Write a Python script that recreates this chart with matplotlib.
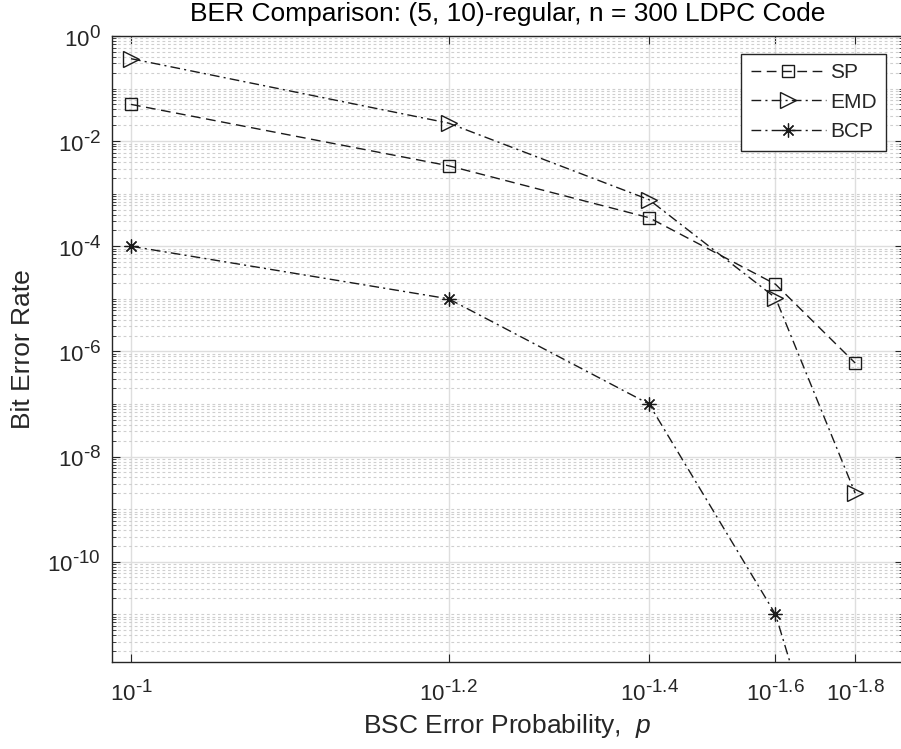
import numpy as np
import matplotlib
matplotlib.use("Agg")
import matplotlib.pyplot as plt
import matplotlib._mathtext as _mt
from matplotlib.ticker import FixedLocator, FixedFormatter, NullFormatter

# MATLAB-style superscripts are slightly larger than mathtext's default
_mt.SHRINK_FACTOR = 0.85

plt.rcParams['font.family'] = ['Liberation Sans', 'DejaVu Sans']
plt.rcParams['mathtext.fontset'] = 'custom'
plt.rcParams['mathtext.rm'] = 'Liberation Sans'
plt.rcParams['mathtext.it'] = 'Liberation Sans:italic'
plt.rcParams['mathtext.default'] = 'regular'

# ---- data ----
p_exponents = [-1.0, -1.2, -1.4, -1.6, -1.8]
x_tick_labels = [r'$10^{\text{-1}}$', r'$10^{\text{-1.2}}$', r'$10^{\text{-1.4}}$',
                 r'$10^{\text{-1.6}}$', r'$10^{\text{-1.8}}$']
ber_sp = [5e-2, 3.4e-3, 3.5e-4, 1.9e-5, 6e-7]
ber_emd = [3.7e-1, 2.2e-2, 7.7e-4, 1.05e-5, 2e-9]
ber_bcp = [1e-4, 1e-5, 1e-7, 1e-11, 1e-16]
y_major_exp = [0, -2, -4, -6, -8, -10]
y_tick_labels = [r'$10^{\text{0}}$', r'$10^{\text{-2}}$', r'$10^{\text{-4}}$',
                 r'$10^{\text{-6}}$', r'$10^{\text{-8}}$', r'$10^{\text{-10}}$']
series_names = ['SP', 'EMD', 'BCP']

p = np.power(10.0, p_exponents)

W, H = 901, 749
fig = plt.figure(figsize=(W / 100, H / 100), dpi=100)
ax_l, ax_r, ax_t, ax_b = 112, 903, 36, 661.7
ax = fig.add_axes([ax_l / W, 1 - ax_b / H, (ax_r - ax_l) / W, (ax_b - ax_t) / H])

txt = '#262626'
lc = '#1a1a1a'

ax.plot(p, ber_sp, color=lc, lw=1.0, dashes=(7, 4), marker='s', ms=8.5,
        mfc='none', mec=lc, mew=1.0, label=series_names[0])
ax.plot(p, ber_emd, color=lc, lw=1.0, dashes=(7, 3, 1.5, 3), marker='>', ms=11,
        mfc='none', mec=lc, mew=1.0, label=series_names[1])
ax.plot(p, ber_bcp, color=lc, lw=1.0, dashes=(7, 3, 1.5, 3), marker=(8, 2, 0), ms=10,
        mfc='none', mec=lc, mew=0.9, label=series_names[2])

ax.set_yscale('log')
ax.set_ylim(1.25e-12, 1.0)
ax.set_xlim(0.10221, 0.010295)

ax.xaxis.set_major_locator(FixedLocator(p))
ax.xaxis.set_major_formatter(FixedFormatter(x_tick_labels))
ax.xaxis.set_minor_locator(FixedLocator([]))

ymaj = [10.0 ** e for e in y_major_exp]
ax.yaxis.set_major_locator(FixedLocator(ymaj))
ax.yaxis.set_major_formatter(FixedFormatter(y_tick_labels))
minors = []
for d in range(-13, 1):
    for k in range(1, 10):
        v = k * 10.0 ** d
        if k == 1 and d in y_major_exp:
            continue
        minors.append(v)
ax.yaxis.set_minor_locator(FixedLocator(minors))
ax.yaxis.set_minor_formatter(NullFormatter())

ax.grid(True, which='major', axis='both', color='#dedede', lw=1.0, ls='-')
ax.grid(True, which='minor', axis='y', color='#cfcfcf', lw=0.8, ls=(0, (2.5, 2.5)))
ax.set_axisbelow(True)

ax.tick_params(which='both', direction='in', top=True, right=True, colors=txt,
               labelsize=16)
ax.tick_params(which='major', length=5.5, width=0.8)
ax.tick_params(which='minor', length=3, width=0.6)
ax.tick_params(axis='y', pad=8)
ax.tick_params(axis='x', pad=13)
for s in ax.spines.values():
    s.set_color(txt)
    s.set_linewidth(1.0)

ax.set_title('BER Comparison: (5, 10)-regular, n = 300 LDPC Code', fontsize=19,
             color='#000000', pad=11)
ax.set_xlabel(r'BSC Error Probability,  $\it{p}$', fontsize=19, color=txt, labelpad=5)
ax.set_ylabel('Bit Error Rate', fontsize=19, color=txt, labelpad=9)

leg = ax.legend(loc='upper right', bbox_to_anchor=((886 - ax_l) / (ax_r - ax_l),
                1 - (54 - ax_t) / (ax_b - ax_t)), borderaxespad=0, fontsize=15,
                handlelength=3.6, handletextpad=0.2, labelspacing=0.5,
                borderpad=0.45, fancybox=False, framealpha=1, edgecolor=txt)
leg.get_frame().set_linewidth(1.0)
for t in leg.get_texts():
    t.set_color(txt)

fig.savefig('out.png', dpi=100)
